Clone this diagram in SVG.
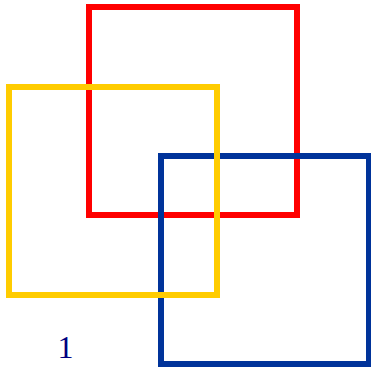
<svg xmlns="http://www.w3.org/2000/svg" width="371" height="367" viewBox="0 0 371 367">
<style>
rect{fill:none;stroke-width:6}
.lbl{font-family:"Liberation Serif",serif;font-size:32px;fill:#000080}
</style>
<rect width="371" height="367" style="fill:#fff;stroke:none"/>
<g id="red"><rect x="89" y="7" width="208" height="208" stroke="#ff0000"/></g>
<g id="blue"><rect x="161" y="156" width="208" height="208" stroke="#00339a"/></g>
<g id="yellow"><rect x="9" y="87" width="208" height="208" stroke="#ffcc00"/></g>
<text class="lbl" x="65.5" y="358" text-anchor="middle">1</text>
</svg>
